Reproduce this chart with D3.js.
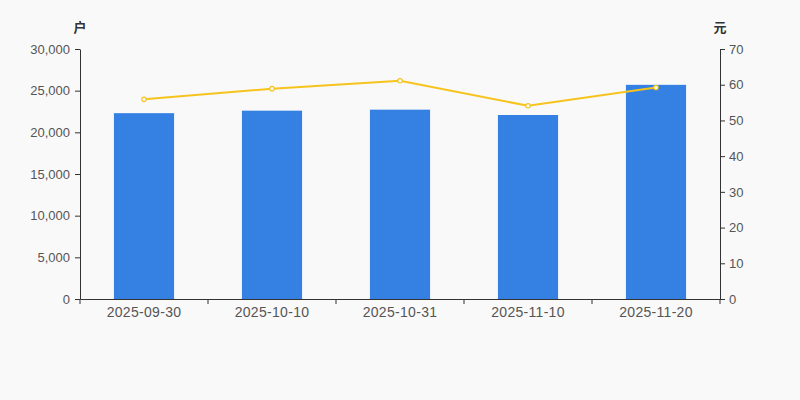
<!DOCTYPE html>
<html>
<head>
<meta charset="utf-8">
<script src="https://cdn.jsdelivr.net/npm/d3@7"></script>
<style>
  body { margin: 0; background: #f9f9f9; }
  svg { display: block; font-family: Arial, "Liberation Sans", "Noto Sans CJK SC", sans-serif; }
</style>
</head>
<body>
<svg id="chart" width="800" height="400"></svg>
<script>
// data
let dates   = ["2025-09-30", "2025-10-10", "2025-10-31", "2025-11-10", "2025-11-20"];
let holders = [22300, 22600, 22720, 22080, 25700];   // 户
let prices  = [55.9, 58.9, 61.1, 54.1, 59.2];        // 元
let leftTicks  = [0, 5000, 10000, 15000, 20000, 25000, 30000];
let rightTicks = [0, 10, 20, 30, 40, 50, 60, 70];

let svg = d3.select("#chart");
let position = { left: 80, top: 49, right: 720, bottom: 299 };
let axisCol = "#333";
let textCol = "#555";

let x = d3.scaleBand()
    .domain(dates)
    .range([position.left, position.right])
    .paddingInner(0.53)
    .paddingOuter(0.265);

let xb = d3.scaleBand().domain(dates).range([position.left, position.right]);

let yL = d3.scaleLinear().domain([0, 30000]).range([position.bottom, position.top]);
let yR = d3.scaleLinear().domain([0, 70]).range([position.bottom, position.top]);

// bars
svg.append("g")
    .selectAll("rect")
    .data(holders)
    .enter()
    .append("rect")
      .attr("x", (d, i) => x(dates[i]))
      .attr("y", d => yL(d))
      .attr("width", x.bandwidth())
      .attr("height", d => yL(0) - yL(d))
      .style("fill", "#3481e3");

// line
let line = d3.line()
    .x((d, i) => xb(dates[i]) + xb.bandwidth() / 2)
    .y(d => yR(d));

svg.append("path")
    .datum(prices)
    .attr("d", line)
    .style("fill", "none")
    .style("stroke", "#f7c31d")
    .style("stroke-width", 2);

svg.append("g")
    .selectAll("circle")
    .data(prices)
    .enter()
    .append("circle")
      .attr("cx", (d, i) => xb(dates[i]) + xb.bandwidth() / 2)
      .attr("cy", d => yR(d))
      .attr("r", 2.2)
      .style("fill", "#fff")
      .style("stroke", "#f7c31d")
      .style("stroke-width", 1.2);

// axes
function styleAxis(size) {
    return g => {
        g.selectAll("path, line").attr("stroke", axisCol);
        g.selectAll("text").attr("fill", textCol).style("font-size", size);
    };
}

svg.append("g")
    .attr("transform", `translate(${position.left},0)`)
    .call(d3.axisLeft(yL).tickValues(leftTicks).tickSize(5).tickSizeOuter(0).tickPadding(5)
        .tickFormat(d3.format(",")))
    .call(styleAxis("13px"));

svg.append("g")
    .attr("transform", `translate(${position.right},0)`)
    .call(d3.axisRight(yR).tickValues(rightTicks).tickSize(5).tickSizeOuter(0).tickPadding(4))
    .call(styleAxis("13px"));

let xAxis = svg.append("g")
    .attr("transform", `translate(0,${position.bottom})`)
    .call(d3.axisBottom(xb).tickSize(0).tickSizeOuter(0).tickPadding(8))
    .call(styleAxis("14px"));

xAxis.selectAll("text").style("letter-spacing", "0.3px");

// band boundary ticks on x axis
xAxis.selectAll(".bound")
    .data(dates.concat(["end"]))
    .enter()
    .append("line")
      .attr("class", "bound")
      .attr("x1", (d, i) => i < dates.length ? xb(d) : position.right)
      .attr("x2", (d, i) => i < dates.length ? xb(d) : position.right)
      .attr("y1", 0)
      .attr("y2", 5)
      .attr("stroke", axisCol);

// unit labels
svg.append("text")
    .attr("x", position.left)
    .attr("y", 32)
    .attr("text-anchor", "middle")
    .style("font-size", "13px")
    .style("font-weight", "bold")
    .attr("fill", "#333")
    .text("户");

svg.append("text")
    .attr("x", position.right)
    .attr("y", 32)
    .attr("text-anchor", "middle")
    .style("font-size", "13px")
    .style("font-weight", "bold")
    .attr("fill", "#333")
    .text("元");
</script>
</body>
</html>
